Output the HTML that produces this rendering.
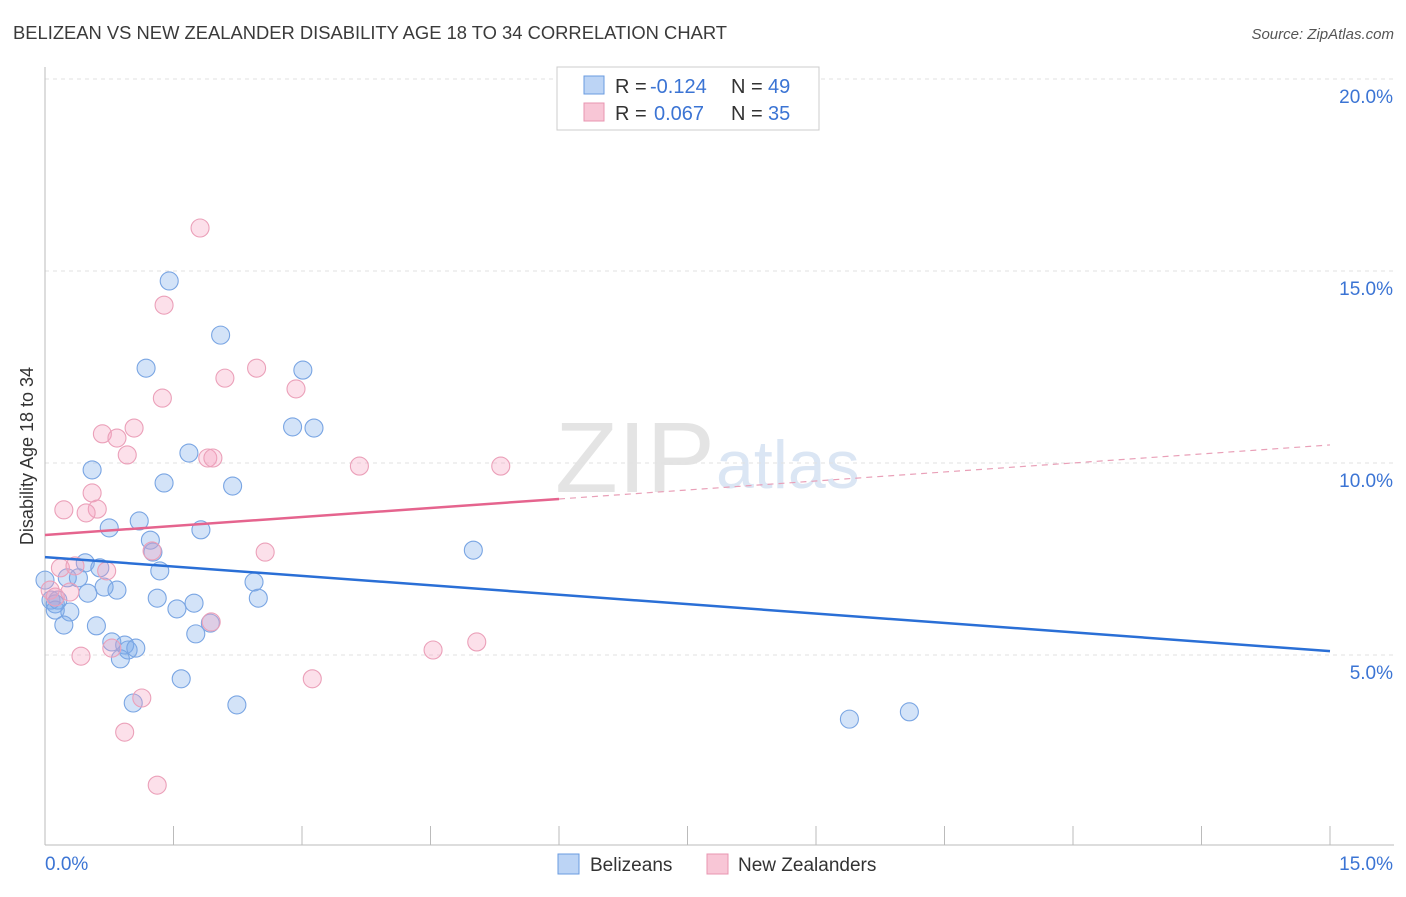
<!DOCTYPE html>
<html><head><meta charset="utf-8"><style>
body{margin:0;background:#fff;font-family:"Liberation Sans",sans-serif;}
svg text{font-family:"Liberation Sans",sans-serif;}
</style></head><body>
<svg id="chart" width="1406" height="892" xmlns="http://www.w3.org/2000/svg">
<text x="13" y="39" font-size="18" fill="#3a3a3a" textLength="714" lengthAdjust="spacingAndGlyphs">BELIZEAN VS NEW ZEALANDER DISABILITY AGE 18 TO 34 CORRELATION CHART</text>
<text x="1394" y="39" font-size="15" fill="#555" text-anchor="end" font-style="italic">Source: ZipAtlas.com</text>
<text x="555" y="492" font-size="100" fill="#e4e4e4" font-family="Liberation Serif" textLength="160" lengthAdjust="spacingAndGlyphs">ZIP</text>
<text x="716" y="488" font-size="68" fill="#dbe6f4">atlas</text>
<g id="grid"></g>
<g id="axes"></g>
<text transform="translate(33,456) rotate(-90)" font-size="18" fill="#333" text-anchor="middle">Disability Age 18 to 34</text>
<g id="marks"></g>
<g id="trend"></g>
<g>
<rect x="557" y="67" width="262" height="63" fill="#fff" stroke="#ccc"/>
<rect x="584" y="76" width="20" height="18" fill="#bcd4f5" stroke="#6a9be0"/>
<rect x="584" y="103" width="20" height="18" fill="#f8c6d6" stroke="#e895b0"/>
<text x="615" y="93" font-size="20" fill="#333">R =</text>
<text x="650" y="93" font-size="20" fill="#3b74d4">-0.124</text>
<text x="731" y="93" font-size="20" fill="#333">N =</text>
<text x="768" y="93" font-size="20" fill="#3b74d4">49</text>
<text x="615" y="120" font-size="20" fill="#333">R =</text>
<text x="654" y="120" font-size="20" fill="#3b74d4">0.067</text>
<text x="731" y="120" font-size="20" fill="#333">N =</text>
<text x="768" y="120" font-size="20" fill="#3b74d4">35</text>
</g>
<g>
<rect x="558" y="854" width="21" height="20" fill="#bcd4f5" stroke="#6a9be0"/>
<text x="590" y="871" font-size="19" fill="#333">Belizeans</text>
<rect x="707" y="854" width="21" height="20" fill="#f8c6d6" stroke="#e895b0"/>
<text x="738" y="871" font-size="19" fill="#333">New Zealanders</text>
</g>
</svg>
<script>
const yTicks=[5,10,15,20];
const yTickLabels=["5.0%","10.0%","15.0%","20.0%"];
const xTicks=[0,1.5,3,4.5,6,7.5,9,10.5,12,13.5,15];
const blueX=[1.45,2.05,1.18,3.01,2.89,3.14,1.68,0.55,1.39,2.19,1.10,0.75,1.82,1.23,1.26,5.00,0.47,1.34,0.64,0.26,0.39,2.44,0.69,0.84,0.50,0.07,0.15,1.31,2.49,1.74,1.54,0.29,0.12,0.22,0.60,1.93,1.76,0.78,0.93,0.97,1.06,0.88,1.59,1.03,2.24,9.39,10.09,0.00,0.12];
const blueY=[14.74,13.33,12.47,12.42,10.94,10.91,10.26,9.82,9.48,9.40,8.49,8.31,8.26,7.99,7.68,7.73,7.40,7.19,7.27,7.01,7.01,6.90,6.77,6.69,6.61,6.43,6.43,6.48,6.48,6.35,6.20,6.12,6.33,5.78,5.76,5.83,5.55,5.34,5.26,5.13,5.18,4.90,4.38,3.75,3.70,3.33,3.52,6.95,6.17];
const pinkX=[1.81,1.39,2.47,2.10,2.93,1.37,0.67,1.04,0.84,0.96,1.90,1.96,3.67,5.32,0.55,0.22,0.61,0.48,1.25,2.57,0.18,0.35,0.72,0.06,0.12,0.29,1.94,4.53,5.04,0.78,0.42,3.12,1.13,0.93,1.31];
const pinkY=[16.12,14.11,12.47,12.21,11.93,11.69,10.76,10.91,10.65,10.21,10.13,10.13,9.92,9.92,9.22,8.78,8.80,8.70,7.71,7.68,7.27,7.32,7.19,6.69,6.51,6.64,5.86,5.13,5.34,5.18,4.97,4.38,3.88,2.99,1.61];
const blueTrend=[7.55,5.10];
const pinkTrend=[8.125,10.47];
const NS="http://www.w3.org/2000/svg";
function sx(v){return 45+v/15*1285;}
function sy(v){return 655-(v-5)*38.4;}
function mk(tag,attrs,parent){const e=document.createElementNS(NS,tag);for(const k in attrs)e.setAttribute(k,attrs[k]);parent.appendChild(e);return e;}
const grid=document.getElementById('grid'),axes=document.getElementById('axes'),marks=document.getElementById('marks'),trend=document.getElementById('trend');
yTicks.forEach((t,i)=>{
 const l=mk('line',{x1:45,x2:1394,y1:sy(t),y2:sy(t),stroke:'#e2e2e2','stroke-dasharray':'4,4'},grid);
 
 
 const tx=mk('text',{x:1393,y:sy(t)+24,'font-size':19,fill:'#3b74d4','text-anchor':'end'},axes);
 tx.textContent=yTickLabels[i];
 
 
});
const ax=mk('line',{x1:45,x2:45,y1:67,y2:845,stroke:'#bbb'},axes);


const bx=mk('line',{x1:45,x2:1394,y1:845,y2:845,stroke:'#bbb'},axes);


xTicks.forEach(t=>{
 const l=mk('line',{x1:sx(t),x2:sx(t),y1:826,y2:845,stroke:'#bbb'},axes);
 
 
});
const x0=mk('text',{x:45,y:870,'font-size':19,fill:'#3b74d4'},axes);x0.textContent='0.0%';


const x1=mk('text',{x:1393,y:870,'font-size':19,fill:'#3b74d4','text-anchor':'end'},axes);x1.textContent='15.0%';


function pts(xs,ys,fill,stroke,name){xs.forEach((x,i)=>{
 const c=mk('circle',{cx:sx(x),cy:sy(ys[i]),r:9,fill:fill,stroke:stroke,'stroke-width':1.1},marks);
 
 
});}
pts(blueX,blueY,'rgba(120,170,235,0.33)','#79a5e3','belizean-point');
pts(pinkX,pinkY,'rgba(245,160,190,0.33)','#eba0b9','new-zealander-point');
const bt=mk('line',{x1:sx(0),y1:sy(blueTrend[0]),x2:sx(15),y2:sy(blueTrend[1]),stroke:'#2a6fd6','stroke-width':2.5},trend);


const pm=pinkTrend[0]+(pinkTrend[1]-pinkTrend[0])*6/15;
const pt=mk('line',{x1:sx(0),y1:sy(pinkTrend[0]),x2:sx(6),y2:sy(pm),stroke:'#e5648e','stroke-width':2.5},trend);


const pd=mk('line',{x1:sx(6),y1:sy(pm),x2:sx(15),y2:sy(pinkTrend[1]),stroke:'#e9a0b8','stroke-width':1.2,'stroke-dasharray':'6,5'},trend);


</script>
</body></html>
